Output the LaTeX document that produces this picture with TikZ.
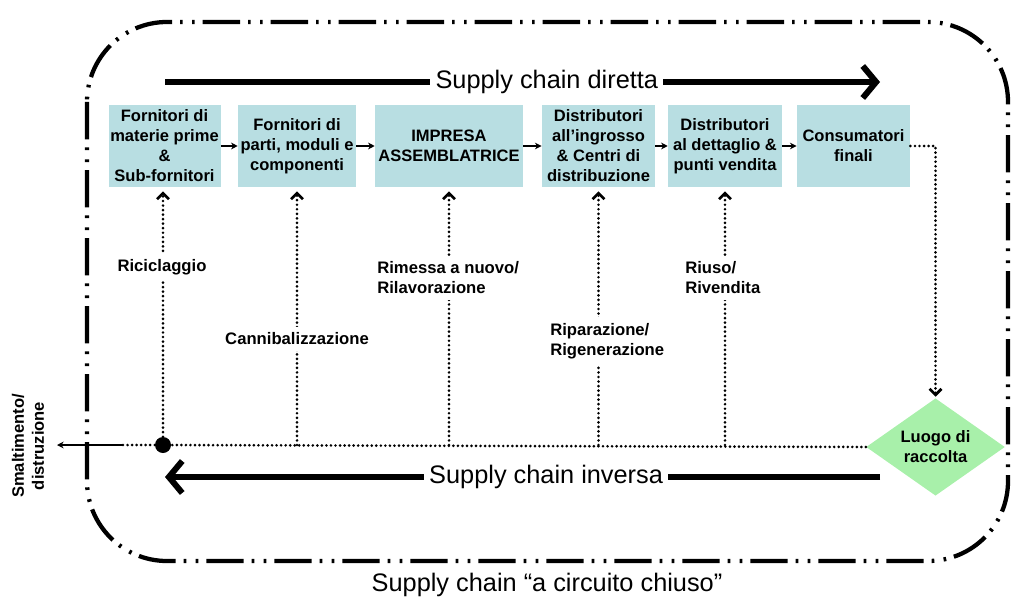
\documentclass[tikz,border=0pt]{standalone}
\usepackage{fontspec}
\setmainfont{Liberation Sans}
\usepackage{tikz}
\usetikzlibrary{arrows.meta, shapes.geometric}
\usepackage{xcolor}
\definecolor{boxcyan}{RGB}{184,222,226}
\definecolor{diagreen}{RGB}{168,240,170}

\begin{document}
\begin{tikzpicture}[x=0.75pt, y=-0.75pt,
  box/.style={rectangle, fill=boxcyan, minimum height=61.5pt, inner sep=0pt,
              align=center, font=\fontsize{12.4}{15}\selectfont\bfseries},
  lbl/.style={fill=white, inner xsep=0pt, inner ysep=4.5pt, align=left,
              font=\fontsize{12.5}{15}\selectfont\bfseries},
  big/.style={fill=white, inner sep=4pt, font=\fontsize{19}{22}\selectfont},
  flow/.style={-{Stealth[length=5pt,width=5pt]}, line width=0.8pt},
  dots/.style={line width=2.2pt, line cap=round, dash pattern=on 0pt off 3.4pt},
  back/.style={dots, -{Straight Barb[length=4.5pt,width=9pt,line width=2pt]}, shorten >=3pt},
  fat/.style={line width=4.5pt, -{Straight Barb[length=10pt,width=24pt]}},
  frame/.style={line width=3.2pt, rounded corners=60pt,
                dash pattern=on 28pt off 6pt on 2pt off 7pt on 2pt off 6pt}
]
\useasboundingbox (0,0) rectangle (1012,599);
\draw[frame] (87,22) rectangle (1008,561);

\node[box, minimum width=84pt]   (b1) at (164.5,146) {Fornitori di\\materie prime\\\&\\Sub-fornitori};
\node[box, minimum width=88.5pt] (b2) at (297,146)   {Fornitori di\\parti, moduli e\\componenti};
\node[box, minimum width=111pt]  (b3) at (449,146)   {IMPRESA\\ASSEMBLATRICE};
\node[box, minimum width=85pt]   (b4) at (598.5,146) {Distributori\\all’ingrosso\\\& Centri di\\distribuzione};
\node[box, minimum width=85.5pt] (b5) at (725,146)   {Distributori\\al dettaglio \&\\punti vendita};
\node[box, minimum width=85pt]   (b6) at (853.5,146) {Consumatori\\finali};
\foreach \a/\b in {b1/b2, b2/b3, b3/b4, b4/b5, b5/b6}
  \draw[flow] (\a) -- (\b);

\node[diamond, fill=diagreen, aspect=1.43, inner sep=0pt, minimum width=104pt,
      minimum height=73pt, align=center, font=\fontsize{12.4}{15}\selectfont\bfseries]
      (dia) at (935.5,447) {Luogo di\\raccolta};
\draw[back, shorten >=1pt] (b6.east) -| (dia.north);

\coordinate (f0) at (165,82);  \coordinate (f1) at (880,82);
\coordinate (r0) at (880,477); \coordinate (r1) at (165,477);
\draw[fat] (f0) -- node[big, pos=0.534] (fwd) {Supply chain diretta} (f1);
\draw[fat] (r0) -- node[big, pos=0.467] (rev) {Supply chain inversa} (r1);

\node[circle, fill=black, inner sep=0pt, minimum size=12pt] (dot) at (163,445) {};
\coordinate (cut) at (123,445);
\coordinate (out) at (57,445);
\draw[dots] (dia.west) -- (dot);
\draw[dots] (dot) -- (cut);
\draw[flow] (cut) -- (out);
\node[rotate=90, align=center, font=\fontsize{12.4}{15}\selectfont\bfseries]
  (smalt) at (28,446) {Smaltimento/\\distruzione};

\draw[back] (dot) -- (dot |- b1.south);
\foreach \b in {b2, b3, b4, b5}
  \draw[back] (\b.south |- dot) -- (\b.south);

\node[lbl] (ricic) at (162,267) {Riciclaggio};
\node[lbl] (canni) at (297,339) {Cannibalizzazione};
\node[lbl, anchor=west] (rimes) at (377,278) {Rimessa a nuovo/\\Rilavorazione};
\node[lbl, anchor=west] (ripar) at (550,341) {Riparazione/\\Rigenerazione};
\node[lbl, anchor=west] (riuso) at (685,278) {Riuso/\\Rivendita};

\node[font=\fontsize{19}{22}\selectfont] (cap) at (547,585) {Supply chain “a circuito chiuso”};
\end{tikzpicture}
\end{document}
